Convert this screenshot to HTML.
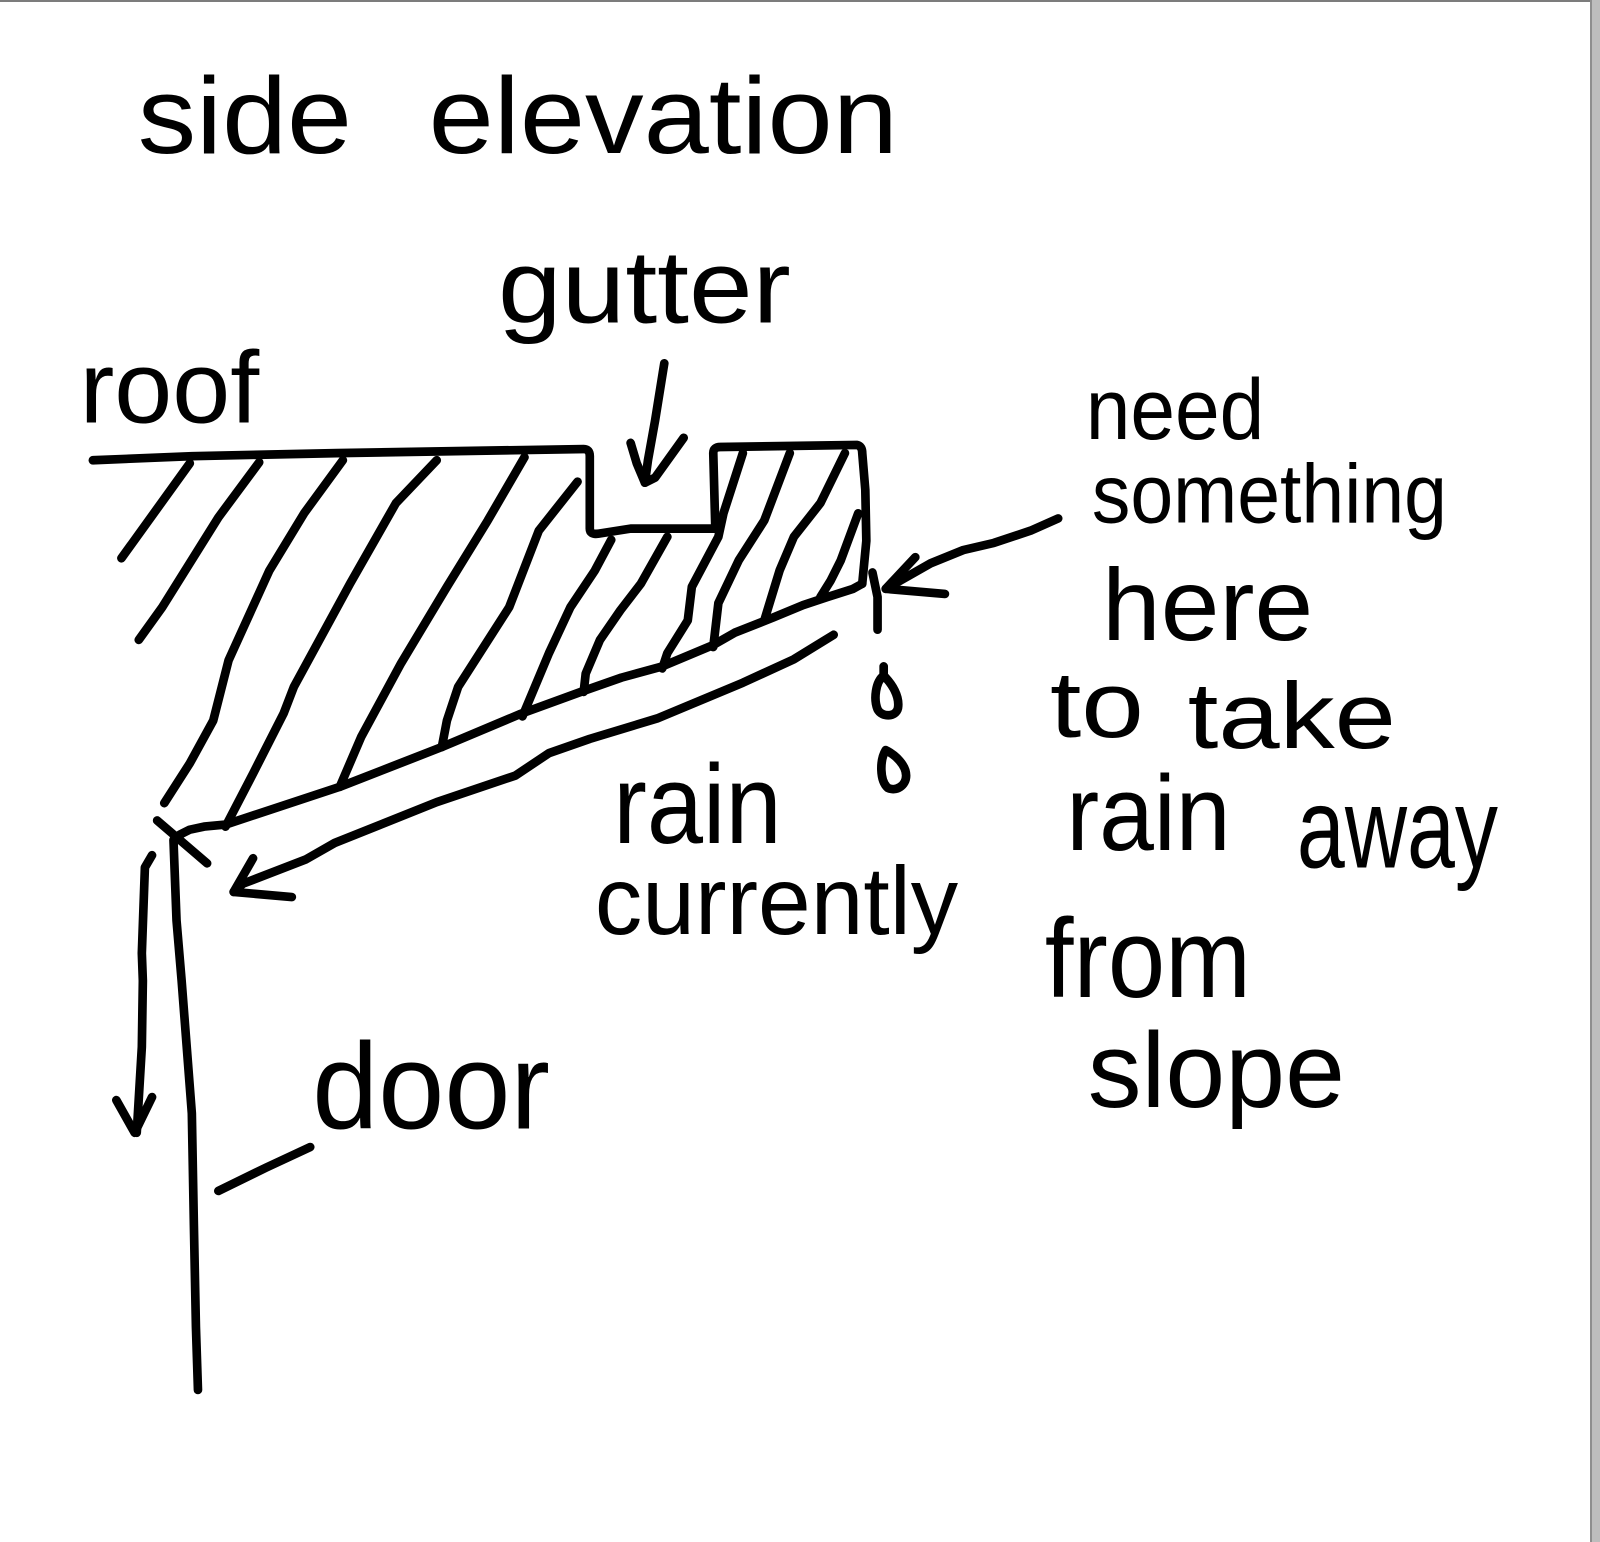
<!DOCTYPE html>
<html>
<head>
<meta charset="utf-8">
<style>
  html, body { margin: 0; padding: 0; background: #ffffff; }
  body { width: 1600px; height: 1542px; position: relative; overflow: hidden; }
  svg { position: absolute; left: 0; top: 0; }
  .topb { position: absolute; left: 0; top: 0; width: 1600px; height: 2px; background: #7c7c7c; }
  .rline { position: absolute; left: 1590px; top: 0; width: 2px; height: 1542px; background: #8e8e8e; }
  .rband { position: absolute; left: 1592px; top: 0; width: 8px; height: 1542px; background: #bdbdbd; }
  text { font-family: "Liberation Sans", "DejaVu Sans", sans-serif; fill: #000; }
</style>
</head>
<body>
<svg width="1600" height="1542" viewBox="0 0 1568 1511" preserveAspectRatio="none" xmlns="http://www.w3.org/2000/svg">
  <g fill="none" stroke="#000" stroke-width="8.5" stroke-linecap="round" stroke-linejoin="round">
    <path d="M91,451 L188,447 L330,444 L572,440 Q578,440 578,447 L578,518 Q578,524 586,523 L618,518 L701,518 L699,444 Q699,438 706,438 L840,436 Q845,437 845,444 L848,480 L849,530 L845,572"/>
    <polyline points="845,572 836,577 811,585 787,593 758,605 720,620 699,632 649,653 609,664 572,677 509,700 433,732 333,771 221,808 200,810 186,813 176,818"/>
    <polyline points="186,454 119,547"/>
    <polyline points="254,453 214,507 159,595 136,627"/>
    <polyline points="336,451 298,503 264,559 224,647 209,706 186,748 161,787"/>
    <polyline points="428,451 388,493 343,572 288,673 278,699 248,758 221,810"/>
    <polyline points="514,448 478,510 438,575 393,650 354,722 333,771"/>
    <polyline points="566,472 528,520 499,595 449,673 438,706 433,732"/>
    <polyline points="599,529 583,559 559,595 538,640 512,702"/>
    <polyline points="654,526 628,572 608,598 588,627 574,660 572,678"/>
    <polyline points="728,444 709,503 704,526 678,575 674,608 654,640 649,655"/>
    <polyline points="774,444 749,510 724,549 704,591 699,634"/>
    <polyline points="828,444 804,493 778,526 764,559 749,608"/>
    <polyline points="841,503 824,549 814,569 804,585"/>
    <polyline points="817,622 778,646 728,669 644,704 578,724 538,738 505,760 428,786 328,826 300,842 238,866 229,874"/>
    <polyline points="248,841 229,874 286,879"/>
    <polyline points="154,804 203,846"/>
    <polyline points="170,823 173,902 178,961 183,1026 188,1091 190,1200 192,1300 194,1362"/>
    <polyline points="149,838 142,850 139,934 140,961 139,1026 134,1110"/>
    <polyline points="114,1078 132,1110 149,1075"/>
    <polyline points="214,1167 261,1144 304,1124"/>
    <polyline points="651,356 642,412 635,451 632,473"/>
    <polyline points="618,434 624,454 632,473 642,468 670,429"/>
    <polyline points="1037,508 1010,520 974,532 944,539 912,552 868,577"/>
    <polyline points="897,546 868,577 926,582"/>
    <polyline points="855,561 860,585 860,617"/>
    <path d="M866,653 L866,662 C858,668 856,685 860,695 C864,703 878,703 880,694 C882,682 874,670 866,662"/>
    <path d="M868,735 C862,745 862,765 870,772 C878,776 888,770 888,760 C888,750 878,740 868,735 Z"/>
  </g>

  <text x="135" y="150" font-size="106" textLength="210" lengthAdjust="spacingAndGlyphs">side</text>
  <text x="420" y="150" font-size="106" textLength="460" lengthAdjust="spacingAndGlyphs">elevation</text>
  <text x="488" y="316" font-size="102" textLength="287" lengthAdjust="spacingAndGlyphs">gutter</text>
  <text x="78" y="414" font-size="100" textLength="176" lengthAdjust="spacingAndGlyphs">roof</text>

  <text x="1064" y="430" font-size="85" textLength="175" lengthAdjust="spacingAndGlyphs">need</text>
  <text x="1070" y="512" font-size="82" textLength="348" lengthAdjust="spacingAndGlyphs">something</text>
  <text x="1080" y="627" font-size="100" textLength="207" lengthAdjust="spacingAndGlyphs">here</text>
  <text x="1029" y="722" font-size="92" textLength="92" lengthAdjust="spacingAndGlyphs">to</text>
  <text x="1164" y="733" font-size="92" textLength="204" lengthAdjust="spacingAndGlyphs">take</text>
  <text x="1045" y="833" font-size="105" textLength="161" lengthAdjust="spacingAndGlyphs">rain</text>
  <text x="1271" y="850" font-size="112" textLength="197" lengthAdjust="spacingAndGlyphs">away</text>
  <text x="1024" y="977" font-size="110" textLength="202" lengthAdjust="spacingAndGlyphs">from</text>
  <text x="1066" y="1085" font-size="105" textLength="252" lengthAdjust="spacingAndGlyphs">slope</text>

  <text x="601" y="826" font-size="110" textLength="165" lengthAdjust="spacingAndGlyphs">rain</text>
  <text x="583" y="915" font-size="95" textLength="356" lengthAdjust="spacingAndGlyphs">currently</text>
  <text x="306" y="1106" font-size="120" textLength="233" lengthAdjust="spacingAndGlyphs">door</text>
</svg>
<div class="topb"></div>
<div class="rline"></div>
<div class="rband"></div>
</body>
</html>
